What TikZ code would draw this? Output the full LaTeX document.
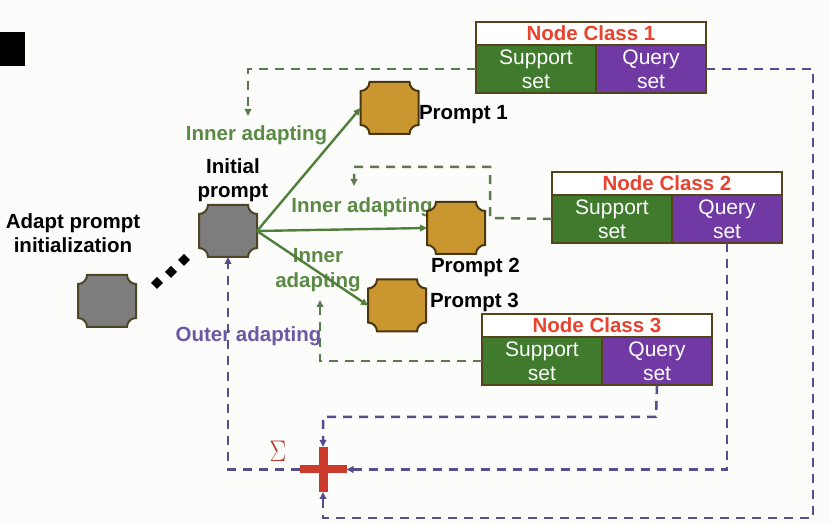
\documentclass[tikz,border=0pt]{standalone}
\usepackage{fontspec}
\setmainfont{Liberation Sans}
\usetikzlibrary{arrows.meta,shapes.geometric}
\definecolor{bgc}{HTML}{FCFCFA}
\definecolor{brd}{HTML}{54441C}
\definecolor{sgreen}{HTML}{3F7A2D}
\definecolor{qpurple}{HTML}{7039A3}
\definecolor{ncred}{HTML}{E8432E}
\definecolor{lgreen}{HTML}{5A8A45}
\definecolor{agreen}{HTML}{4F7F3A}
\definecolor{dgreen}{HTML}{5B7A52}
\definecolor{dpurple}{HTML}{574C8C}
\definecolor{tpurple}{HTML}{6A5AA5}
\definecolor{gold}{HTML}{C9962F}
\definecolor{goldbrd}{HTML}{4A3712}
\definecolor{grayfill}{HTML}{7D7D7D}
\definecolor{graybrd}{HTML}{4D4525}
\definecolor{plusred}{HTML}{CC3A2C}
\definecolor{sigred}{HTML}{B33A30}
\newcommand\notchdraw[3]{\draw[fill=#2,draw=#3,line width=2pt]
  ([xshift=9pt]#1.south west) -- ([xshift=-9pt]#1.south east)
  arc[start angle=180,end angle=90,radius=9pt] -- ([yshift=-9pt]#1.north east)
  arc[start angle=270,end angle=180,radius=9pt] -- ([xshift=9pt]#1.north west)
  arc[start angle=0,end angle=-90,radius=9pt] -- ([yshift=9pt]#1.south west)
  arc[start angle=90,end angle=0,radius=9pt] -- cycle;}
\tikzset{
  every node/.style={inner sep=0pt, outer sep=0pt},
  notchnode/.style={minimum width=58pt, minimum height=52pt},
  lab/.style={font=\fontsize{20.5}{24.5}\selectfont\bfseries, align=center},
  greenlab/.style={lab, text=lgreen},
  purplelab/.style={lab, text=tpurple},
  titlebox/.style={draw=brd, line width=1.8pt, fill=white, minimum width=230pt, minimum height=23pt, anchor=north west, text=ncred, font=\fontsize{20.5}{24.5}\selectfont\bfseries},
  supbox/.style={draw=brd, line width=1.8pt, fill=sgreen, minimum width=120pt, minimum height=48pt, anchor=north west, text=white, align=center, font=\fontsize{21}{24}\selectfont},
  qrybox/.style={supbox, fill=qpurple, minimum width=110pt},
  tip/.style={-{Triangle[length=7pt,width=6.5pt]}},
  gdash/.style={draw=dgreen, line width=2.5pt, dash pattern=on 9pt off 7pt, tip},
  pdash/.style={draw=dpurple, line width=2.5pt, dash pattern=on 9pt off 7pt, tip},
  garrow/.style={draw=agreen, line width=2.4pt, tip},
  dotmark/.style={diamond, fill=black, minimum size=12pt}
}
\begin{document}
\begin{tikzpicture}[x=1pt,y=1pt]
\useasboundingbox[fill=bgc] (0,0) rectangle (830,524);
\fill[black] (0,458) rectangle (25,492);

% text labels
\node[lab] (adaptlab) at (73,291) {Adapt prompt\\initialization};
\node[lab] (initlab) at (233,344) {Initial\\prompt};
\node[greenlab] (inner1) at (256.5,389) {Inner adapting};
\node[greenlab] (inner2) at (362,317) {Inner adapting};
\node[greenlab] (inner3) at (318,254) {Inner\\adapting};
\node[purplelab] (outer) at (248.5,188) {Outer adapting};
\node[lab, anchor=west] (p1lab) at (419,409) {Prompt 1};
\node[lab, anchor=west] (p2lab) at (431,257) {Prompt 2};
\node[lab, anchor=west] (p3lab) at (430,222) {Prompt 3};

% prompt nodes
\node[notchnode] (g1) at (107,223) {};
\node[notchnode] (init) at (228,293) {};
\node[notchnode] (p1) at (389.5,416) {};
\node[notchnode] (p2) at (456,296) {};
\node[notchnode] (p3) at (397,218.5) {};
\notchdraw{g1}{grayfill}{graybrd}
\notchdraw{init}{grayfill}{graybrd}
\notchdraw{p1}{gold}{goldbrd}
\notchdraw{p2}{gold}{goldbrd}
\notchdraw{p3}{gold}{goldbrd}

% dots
\node[dotmark] (d1) at (157,241) {};
\node[dotmark] (d2) at (171,252) {};
\node[dotmark] (d3) at (184,264) {};

% node classes
\node[titlebox] (t1) at (476,502) {Node Class 1};
\node[supbox] (s1) at (t1.south west) {Support\\set};
\node[qrybox] (q1) at (s1.north east) {Query\\set};
\node[titlebox] (t2) at (552,352) {Node Class 2};
\node[supbox] (s2) at (t2.south west) {Support\\set};
\node[qrybox] (q2) at (s2.north east) {Query\\set};
\node[titlebox] (t3) at (482,210) {Node Class 3};
\node[supbox] (s3) at (t3.south west) {Support\\set};
\node[qrybox] (q3) at (s3.north east) {Query\\set};

% solid green arrows
\draw[garrow] (init.east) -- (p1.west);
\draw[garrow] (init.east) -- (p2.west);
\draw[garrow] (init.east) -- (p3.west);

% plus
\node[minimum width=47pt, minimum height=45pt] (plus) at (323,54.5) {};
\node[text=sigred, font=\fontsize{32}{32}\selectfont, yscale=1.2] (sigma) at (278,73) {$\Sigma$};

% green dashed
\coordinate (g1end) at (248,408);
\coordinate (g2a) at (490,306);
\coordinate (g2b) at (490,357);
\coordinate (g2c) at (354,357);
\coordinate (g2end) at (354,338);
\coordinate (g3end) at (320,224);
\draw[gdash] (s1.west) -| (g1end);
\draw[gdash] (s2.west) -- (g2a) -- (g2b) -- (g2c) -- (g2end);
\draw[gdash] (s3.west) -| (g3end);

% purple dashed
\coordinate (pr) at (813,6);
\coordinate (q3turn) at (656,107);
\draw[pdash] (q1.east) -| (pr) -| (plus.south);
\draw[pdash] (q2.south) |- (plus.east);
\draw[pdash] (q3.south) -- (q3turn) -| (plus.north);
\draw[pdash] (plus.west) -| (init.south);

\fill[plusred] (300,51) rectangle (347,59);
\fill[plusred] (318.5,32) rectangle (327.5,77);
\end{tikzpicture}
\end{document}
